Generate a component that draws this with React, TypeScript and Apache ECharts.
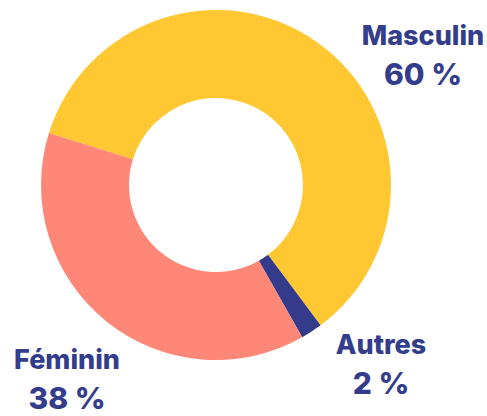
import React, { useEffect, useRef } from "react";
import * as echarts from "echarts";

const categories = ["Masculin", "Autres", "Féminin"];
const values = [60, 2, 38];
const colors = ["#FFC832", "#343B8A", "#FF8778"];
// label anchor points (center x, middle y) for each category
const labelPos: [number, number][] = [
  [423, 57],
  [381, 366],
  [67, 381],
];

export default function App() {
  const ref = useRef<HTMLDivElement>(null);
  useEffect(() => {
    if (!ref.current) return;
    const chart = echarts.init(ref.current, null, { renderer: "svg" });
    chart.setOption({
      animation: false,
      backgroundColor: "#ffffff",
      series: [
        {
          type: "pie",
          center: [216, 185],
          radius: [87, 175],
          startAngle: 162.7,
          clockwise: true,
          avoidLabelOverlap: false,
          data: categories.map((c, i) => ({
            name: c,
            value: values[i],
            itemStyle: { color: colors[i] },
          })),
          label: {
            show: true,
            position: "outside",
            formatter: (p: any) => `{n|${p.name}}\n{v|${p.value} %}`,
            rich: {
              n: {
                fontFamily: "Inter",
                fontWeight: 800,
                fontSize: 27,
                lineHeight: 34,
                color: "#343D8B",
                align: "center",
              },
              v: {
                fontFamily: "Inter",
                fontWeight: 800,
                fontSize: 30,
                lineHeight: 44,
                color: "#343D8B",
                align: "center",
              },
            },
          },
          labelLine: { show: false },
          labelLayout: (params: any) => {
            const [x, y] = labelPos[params.dataIndex];
            return { x, y, align: "center", verticalAlign: "middle" };
          },
        },
      ],
    });
    return () => chart.dispose();
  }, []);
  return (
    <div
      ref={ref}
      style={{ position: "absolute", left: 0, top: 0, width: 487, height: 416 }}
    />
  );
}
